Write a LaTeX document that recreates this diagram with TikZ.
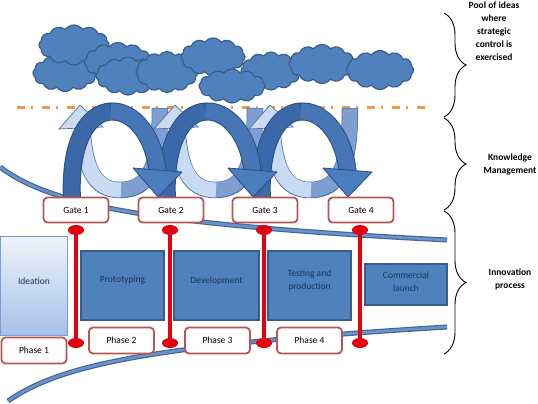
\documentclass[tikz,border=0pt]{standalone}
\usepackage{fontspec}
\setmainfont{Carlito}
\usetikzlibrary{shapes.symbols,shapes.geometric,decorations.pathreplacing,calc}
\definecolor{cloudfill}{HTML}{4F81BD}
\definecolor{cloudline}{HTML}{385D8A}
\definecolor{darkA}{HTML}{3A68A8}
\definecolor{darkB}{HTML}{4676B6}
\definecolor{darkhead}{HTML}{4A7DBD}
\definecolor{arcline}{HTML}{2B4E80}
\definecolor{lightarc}{HTML}{C9DBF2}
\definecolor{midarc}{HTML}{7F9FD3}
\definecolor{uoutline}{HTML}{4A6FA5}
\definecolor{boxfill}{HTML}{4F81BD}
\definecolor{boxline}{HTML}{385D8A}
\definecolor{boxtext}{HTML}{17375E}
\definecolor{gateline}{HTML}{B65552}
\definecolor{pinred}{HTML}{E3000F}
\definecolor{funnelA}{HTML}{3F679D}
\definecolor{funnelB}{HTML}{6C92C8}
\definecolor{orangedash}{HTML}{F79646}
\definecolor{ideatop}{HTML}{EEF3FA}
\definecolor{ideabot}{HTML}{A6C1E9}
\definecolor{ideaborder}{HTML}{7A9FD4}
\begin{document}
\begin{tikzpicture}[x=1pt,y=-1pt,
  cloudn/.style={cloud, cloud puffs=12, cloud puff arc=110, fill=cloudfill, draw=cloudline, line width=1.2pt, inner sep=0pt},
  gatebox/.style={draw=gateline, line width=1.8pt, fill=white, rounded corners=4pt, minimum width=65pt, minimum height=25pt, inner sep=0pt, font=\fontsize{9.5}{11}\selectfont},
  procbox/.style={draw=boxline, line width=2.5pt, fill=boxfill, inner sep=0pt},
  proclabel/.style={text=boxtext, align=center, font=\fontsize{9.5}{13}\selectfont, yshift=5pt},
  sidelabel/.style={align=center, font=\bfseries\fontsize{9.5}{13}\selectfont},
  pinend/.style={ellipse, fill=pinred, minimum width=16pt, minimum height=10pt, inner sep=0pt},
  pinline/.style={draw=pinred, line width=4.5pt},
  bracestyle/.style={decorate, decoration={brace, amplitude=22pt}, line width=0.9pt, black},
  darkout/.style={draw=arcline, line width=18pt},
  darkfillA/.style={draw=darkA, line width=16pt},
  darkfillB/.style={draw=darkB, line width=16pt},
  headstyle/.style={fill=darkhead, draw=arcline, line width=0.8pt, line join=round},
  uout/.style={draw=uoutline, line width=16.5pt},
  umid/.style={draw=midarc, line width=15pt},
  ulight/.style={draw=lightarc, line width=15pt},
  uhead/.style={fill=lightarc, draw=uoutline, line width=0.7pt},
  funout/.style={draw=funnelA, line width=5pt},
  funin/.style={draw=funnelB, line width=2.6pt},
  dashline/.style={draw=orangedash, line width=3pt, dash pattern=on 8pt off 6pt on 2pt off 9pt}
]
\fill[white] (0,0) rectangle (538,404);
\useasboundingbox (0,0) rectangle (538,404);

% clouds
\node[cloudn, minimum width=64pt, minimum height=37pt] (cB) at (65,73) {};
\node[cloudn, minimum width=70pt, minimum height=40pt] (cA) at (74,45) {};
\node[cloudn, minimum width=67pt, minimum height=39pt] (cC) at (118,62) {};
\node[cloudn, minimum width=64pt, minimum height=38pt] (cD) at (128,76) {};
\node[cloudn, minimum width=62pt, minimum height=41pt] (cE) at (167,72) {};
\node[cloudn, minimum width=64pt, minimum height=38pt] (cF) at (213,57) {};
\node[cloudn, minimum width=60pt, minimum height=38pt] (cH) at (271,71) {};
\node[cloudn, minimum width=66pt, minimum height=39pt] (cI) at (322,64) {};
\node[cloudn, minimum width=67pt, minimum height=39pt] (cJ) at (380,70) {};
\node[cloudn, minimum width=66pt, minimum height=34pt] (cG) at (232,86) {};

% orange dash-dot line
\draw[dashline] (17,107) -- (428,107);

% funnel curves
\draw[funout] (0,167) .. controls (50,205) and (150,225) .. (447,240);
\draw[funin] (0,167) .. controls (50,205) and (150,225) .. (447,240);
\draw[funout] (8,401) .. controls (60,365) and (150,345) .. (447,327);
\draw[funin] (8,401) .. controls (60,365) and (150,345) .. (447,327);

% back loops (light / medium)
\foreach \d in {0,95,190} {
  \draw[uout] (82+\d,122) .. controls (84+\d,170) and (95+\d,190) .. (120+\d,190)
     .. controls (150+\d,190) and (160+\d,165) .. (160+\d,108);
  \draw[umid] (118+\d,190) .. controls (150+\d,190) and (160+\d,165) .. (160+\d,108.7);
  \draw[ulight] (82+\d,122) .. controls (84+\d,170) and (95+\d,190) .. (121+\d,190);
  \filldraw[uhead] (59+\d,129) -- (80+\d,105) -- (103+\d,127) -- cycle;
}

% front loops (dark)
\foreach \d in {190,95,0} {
  \draw[darkout] (72+\d,200) .. controls (66+\d,80) and (152+\d,92) .. (158+\d,176);
  \draw[darkfillA] (72+\d,200) .. controls (69+\d,140) and (89+\d,113) .. (110.5+\d,111.5);
  \draw[darkfillB] (110.5+\d,111.5) .. controls (132+\d,110) and (155+\d,134) .. (158+\d,176);
  \filldraw[headstyle] (133+\d,168) -- (182+\d,172) -- (158+\d,197) -- cycle;
}

% gates
\node[gatebox] (g1) at (76,210) {Gate 1};
\node[gatebox] (g2) at (171,210) {Gate 2};
\node[gatebox] (g3) at (265,210) {Gate 3};
\node[gatebox] (g4) at (361,210) {Gate 4};

% process boxes
\node[draw=ideaborder, line width=1pt, top color=ideatop, bottom color=ideabot,
      minimum width=67pt, minimum height=99pt, inner sep=0pt,
      label={[proclabel]center:Ideation}] (idea) at (34,286) {};
\node[procbox, minimum width=83pt, minimum height=69pt,
      label={[proclabel]center:Prototyping}] (proto) at (122.5,285.5) {};
\node[procbox, minimum width=85pt, minimum height=69pt,
      label={[proclabel]center:Development}] (dev) at (216.5,285.5) {};
\node[procbox, minimum width=83pt, minimum height=69pt,
      label={[proclabel]center:Testing and\\production}] (test) at (309.5,285.5) {};
\node[procbox, minimum width=82pt, minimum height=41pt,
      label={[proclabel, yshift=-2pt]center:Commercial\\launch}] (comm) at (406,284.5) {};

% phases
\node[gatebox, minimum height=26pt] (ph1) at (34,350.5) {Phase 1};
\node[gatebox, minimum height=26pt] (ph2) at (121.5,340.5) {Phase 2};
\node[gatebox, minimum height=26pt] (ph3) at (217.5,340.5) {Phase 3};
\node[gatebox, minimum height=26pt] (ph4) at (309.5,340.5) {Phase 4};

% red pins
\foreach \i/\x in {1/76,2/170,3/264,4/360} {
  \node[pinend] (pt\i) at (\x,230) {};
  \node[pinend] (pb\i) at (\x,343) {};
  \draw[pinline] (pt\i.center) -- (pb\i.center);
}

% braces and side labels
\coordinate (b1s) at (444,13);
\coordinate (b1e) at (444,117);
\coordinate (b2s) at (444,118);
\coordinate (b2e) at (444,210);
\coordinate (b3s) at (444,211);
\coordinate (b3e) at (444,354);
\draw[bracestyle] (b1s) -- (b1e);
\draw[bracestyle] (b2s) -- (b2e);
\draw[bracestyle] (b3s) -- (b3e);
\node[sidelabel] (lpool) at (494,31) {Pool of ideas\\where\\strategic\\control is\\exercised};
\node[sidelabel] (lknow) at (510,164) {Knowledge\\Management};
\node[sidelabel] (linno) at (510,279) {Innovation\\process};
\end{tikzpicture}
\end{document}
